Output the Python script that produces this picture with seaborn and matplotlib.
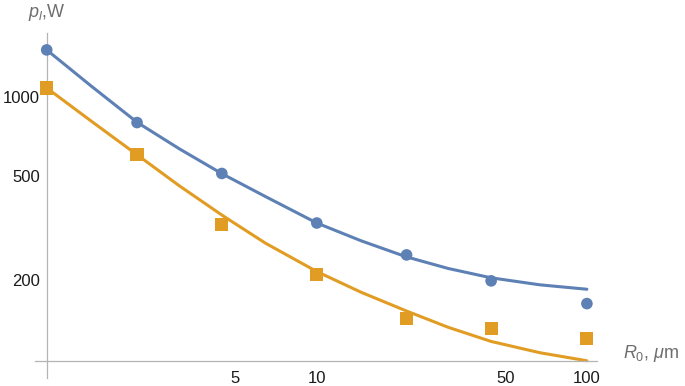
import matplotlib
matplotlib.use('Agg')
import matplotlib.pyplot as plt
import seaborn as sns
from matplotlib.ticker import FixedLocator, FixedFormatter, NullFormatter

# measured points
r0 = [1, 2.16, 4.45, 10, 21.5, 44.2, 100]
p_circles = [1521, 801, 511, 330, 249, 198, 162]
p_squares = [1087, 602, 325, 210, 142, 130, 119]

# fitted curves
r_fit = [1, 1.467, 2.164, 3.10, 4.47, 6.45, 10, 14.6, 21.4, 30.6, 44.2, 67.0, 100]
fit_circles = [1521, 1102, 802, 635, 509, 417, 330, 282, 245, 221, 203.4, 191.2, 183.9]
fit_squares = [1087, 809, 602, 458, 353, 276.3, 215, 179, 152, 131.5, 116, 105, 97.8]

# ticks
x_major = [5, 10, 50, 100]
x_minor = [2, 3, 4, 6, 7, 8, 9, 20, 30, 40, 60, 70, 80, 90]
y_major = [200, 500, 1000]
y_minor = [90, 100, 300, 400, 600, 700, 800, 900]

blue = '#5E81B5'
orange = '#E19C24'
axis_gray = '#b4b4b4'
label_gray = '#6e6e6e'

sns.set_style("white")
plt.rcParams['font.family'] = ['Liberation Sans', 'DejaVu Sans']
plt.rcParams['mathtext.fontset'] = 'custom'
plt.rcParams['mathtext.rm'] = 'Liberation Sans'
plt.rcParams['mathtext.it'] = 'Liberation Sans:italic'

fig = plt.figure(figsize=(6.85, 3.86), dpi=100)
ax = fig.add_axes([35 / 685, 1 - 378 / 386, (597 - 35) / 685, (378 - 33) / 386])

sns.lineplot(x=r_fit, y=fit_circles, color=blue, lw=2.2, sort=False, ax=ax, zorder=2)
sns.lineplot(x=r_fit, y=fit_squares, color=orange, lw=2.2, sort=False, ax=ax, zorder=2)
sns.scatterplot(x=r0, y=p_circles, color=blue, marker='o', s=70, edgecolor='none',
                ax=ax, zorder=3, clip_on=False)
sns.scatterplot(x=r0, y=p_squares, color=orange, marker='s', s=90, edgecolor='none',
                ax=ax, zorder=3, clip_on=False)

ax.set_xscale('log')
ax.set_yscale('log')
ax.set_xlim(0.905, 109)
ax.set_ylim(84, 1766)

for s in ['top', 'right']:
    ax.spines[s].set_visible(False)
ax.spines['left'].set_position(('data', 1))
ax.spines['bottom'].set_position(('data', 97.7))
for s in ['left', 'bottom']:
    ax.spines[s].set_color(axis_gray)
    ax.spines[s].set_linewidth(0.9)

ax.xaxis.set_major_locator(FixedLocator(x_major))
ax.xaxis.set_major_formatter(FixedFormatter([str(v) for v in x_major]))
ax.xaxis.set_minor_locator(FixedLocator(x_minor))
ax.xaxis.set_minor_formatter(NullFormatter())
ax.yaxis.set_major_locator(FixedLocator(y_major))
ax.yaxis.set_major_formatter(FixedFormatter([str(v) for v in y_major]))
ax.yaxis.set_minor_locator(FixedLocator(y_minor))
ax.yaxis.set_minor_formatter(NullFormatter())

ax.tick_params(which='both', direction='in', color=axis_gray, width=0.9,
               labelsize=12, labelcolor='#1a1a1a')
ax.tick_params(which='major', length=4.5)
ax.tick_params(which='minor', length=2.5)
ax.tick_params(axis='x', which='major', pad=7)
ax.tick_params(axis='y', which='major', pad=5)
ax.set_xlabel('')
ax.set_ylabel('')

fig.text(46.7 / 685, 1 - 17 / 386, r'$p_l$,W', ha='center', va='baseline',
         fontsize=13, color=label_gray)
fig.text(623 / 685, 1 - 358 / 386, r'$R_0$, $\mu$m', ha='left', va='baseline',
         fontsize=13, color=label_gray)

fig.savefig('out.png', dpi=100)
